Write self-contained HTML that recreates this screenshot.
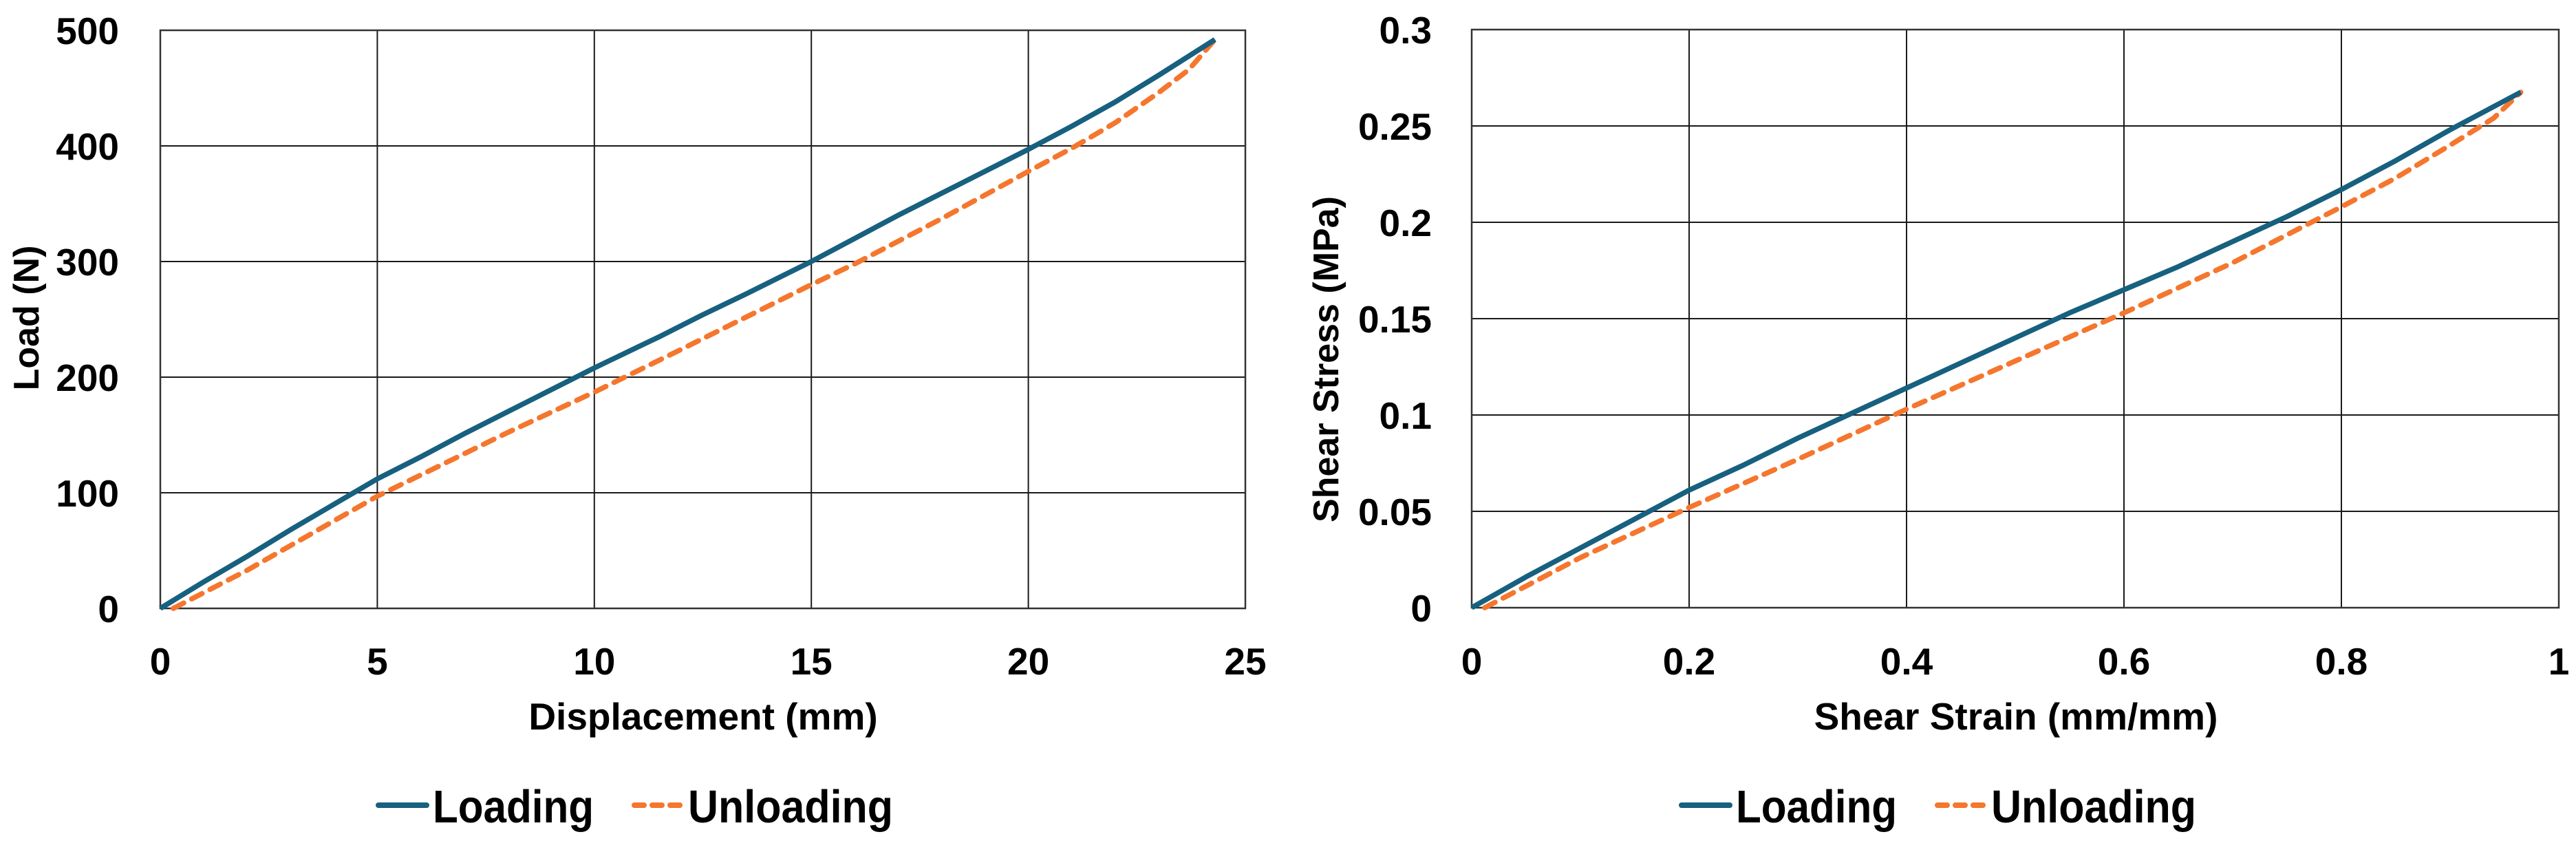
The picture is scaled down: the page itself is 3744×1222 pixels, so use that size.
<!DOCTYPE html>
<html><head><meta charset="utf-8"><style>
html,body{margin:0;padding:0;background:#fff;}
svg{display:block;}
text{font-family:"Liberation Sans",Arial,sans-serif;font-weight:bold;fill:#000;}
</style></head><body>
<svg id="root" width="3744" height="1222" viewBox="0 0 3744 1222" xmlns="http://www.w3.org/2000/svg">
<g id="c1"></g>
<g id="c2"></g>
</svg>
<script>
// Chart 1 data
const c1XTicks = [0,5,10,15,20,25];
const c1YTicks = [0,100,200,300,400,500];
const c1LoadX = [0,1,2,3,4,5,6,7,8,9,10,11,11.5,12.5,13.5,15,16,17,18,19,20,21,22,23,24.3];
const c1LoadY = [0,23,45,68,90,112,131,151,170,189,208,226,235,254,272,300,320,340,359,378,397,417,438,461,492];
const c1UnX = [0.3,2,5,8,10,12,15,16,18,20,21,22,23,23.7,24.3];
const c1UnY = [0,33,97,152,187,224,280,298,337,378,398,420,446,466,492];
// Chart 2 data
const c2XTicks = [0,0.2,0.4,0.6,0.8,1];
const c2YTicks = [0,0.05,0.1,0.15,0.2,0.25,0.3];
const c2YLabels = ["0","0.05","0.1","0.15","0.2","0.25","0.3"];
const c2LoadX = [0,0.05,0.1,0.15,0.2,0.25,0.3,0.35,0.4,0.45,0.5,0.55,0.6,0.65,0.7,0.75,0.8,0.85,0.9,0.965];
const c2LoadY = [0,0.016,0.031,0.046,0.061,0.074,0.088,0.101,0.114,0.127,0.14,0.153,0.165,0.177,0.19,0.203,0.217,0.232,0.248,0.2675];
const c2UnX = [0.012,0.1,0.2,0.3,0.4,0.5,0.6,0.7,0.8,0.85,0.9,0.94,0.965];
const c2UnY = [0,0.026,0.052,0.077,0.103,0.128,0.153,0.179,0.208,0.223,0.24,0.254,0.2675];

const NS="http://www.w3.org/2000/svg";
const BLUE="#17607f", ORANGE="#f5762d";
function mk(tag, parent, attrs){const e=document.createElementNS(NS,tag);for(const k in attrs)e.setAttribute(k,attrs[k]);parent.appendChild(e);return e;}

function chart(g, cfg){
  const L=cfg.left,R=cfg.right,T=cfg.top,B=cfg.bottom;
  const sx=v=>L+(v-cfg.xmin)/(cfg.xmax-cfg.xmin)*(R-L);
  const sy=v=>B-(v-cfg.ymin)/(cfg.ymax-cfg.ymin)*(B-T);
  cfg.yTicks.forEach((v,i)=>{
    const ln=mk('line',g,{x1:L,x2:R,y1:sy(v),y2:sy(v),stroke:'#1a1a1a','stroke-width':2});
    
    
    const t=mk('text',g,{x:cfg.yLabelX,y:sy(v)+20,'text-anchor':'end','font-size':55});
    t.textContent=cfg.yLabels?cfg.yLabels[i]:String(v);
    
    
  });
  cfg.xTicks.forEach(v=>{
    const ln=mk('line',g,{x1:sx(v),x2:sx(v),y1:T,y2:B,stroke:'#1a1a1a','stroke-width':2});
    
    
    const t=mk('text',g,{x:sx(v),y:980,'text-anchor':'middle','font-size':55});
    t.textContent=String(v);
    
    
  });
  const fr=mk('rect',g,{x:L,y:T,width:R-L,height:B-T,fill:'none',stroke:'#333','stroke-width':2.5});
  
  
  const pts=(xs,ys)=>xs.map((x,i)=>sx(x).toFixed(1)+','+sy(ys[i]).toFixed(1)).join(' ');
  const un=mk('polyline',g,{points:pts(cfg.unX,cfg.unY),fill:'none',stroke:ORANGE,'stroke-width':7.5,'stroke-dasharray':'17 13','stroke-linecap':'round','stroke-linejoin':'round'});
  
  
  const ld=mk('polyline',g,{points:pts(cfg.loadX,cfg.loadY),fill:'none',stroke:BLUE,'stroke-width':7.5,'stroke-linejoin':'round'});
  
  
  const xt=mk('text',g,{x:cfg.xTitleX,y:1060,'text-anchor':'middle','font-size':55});
  xt.textContent=cfg.xTitle;
  
  
  const yt=mk('text',g,{x:0,y:0,'text-anchor':'middle','font-size':52,transform:`translate(${cfg.yTitleX},${cfg.yTitleY}) rotate(-90)`});
  yt.textContent=cfg.yTitle;
  
  
  const lg=mk('g',g,{});
  
  
  const lx=cfg.legendX, ly=1170;
  const l1=mk('line',lg,{x1:lx,x2:lx+70,y1:ly,y2:ly,stroke:BLUE,'stroke-width':8,'stroke-linecap':'round'});
  
  
  const t1=mk('text',lg,{x:lx+79,y:ly+25,'font-size':67,textLength:234,lengthAdjust:'spacingAndGlyphs'});
  t1.textContent='Loading';
  
  
  const l2=mk('line',lg,{x1:lx+372,x2:lx+442,y1:ly,y2:ly,stroke:ORANGE,'stroke-width':8,'stroke-dasharray':'14 12','stroke-linecap':'round'});
  
  
  const t2=mk('text',lg,{x:lx+450,y:ly+25,'font-size':67,textLength:298,lengthAdjust:'spacingAndGlyphs'});
  t2.textContent='Unloading';
  
  
}
chart(document.getElementById('c1'),{left:233,right:1810,top:44,bottom:884,xmin:0,xmax:25,ymin:0,ymax:500,
  xTicks:c1XTicks,yTicks:c1YTicks,loadX:c1LoadX,loadY:c1LoadY,unX:c1UnX,unY:c1UnY,
  yLabelX:173,xTitle:'Displacement (mm)',xTitleX:1022,yTitle:'Load (N)',yTitleX:56,yTitleY:462,legendX:550});
chart(document.getElementById('c2'),{left:2139,right:3719,top:43,bottom:883,xmin:0,xmax:1,ymin:0,ymax:0.3,
  xTicks:c2XTicks,yTicks:c2YTicks,yLabels:c2YLabels,loadX:c2LoadX,loadY:c2LoadY,unX:c2UnX,unY:c2UnY,
  yLabelX:2081,xTitle:'Shear Strain (mm/mm)',xTitleX:2930,yTitle:'Shear Stress (MPa)',yTitleX:1945,yTitleY:522,legendX:2444});
</script>
</body></html>
